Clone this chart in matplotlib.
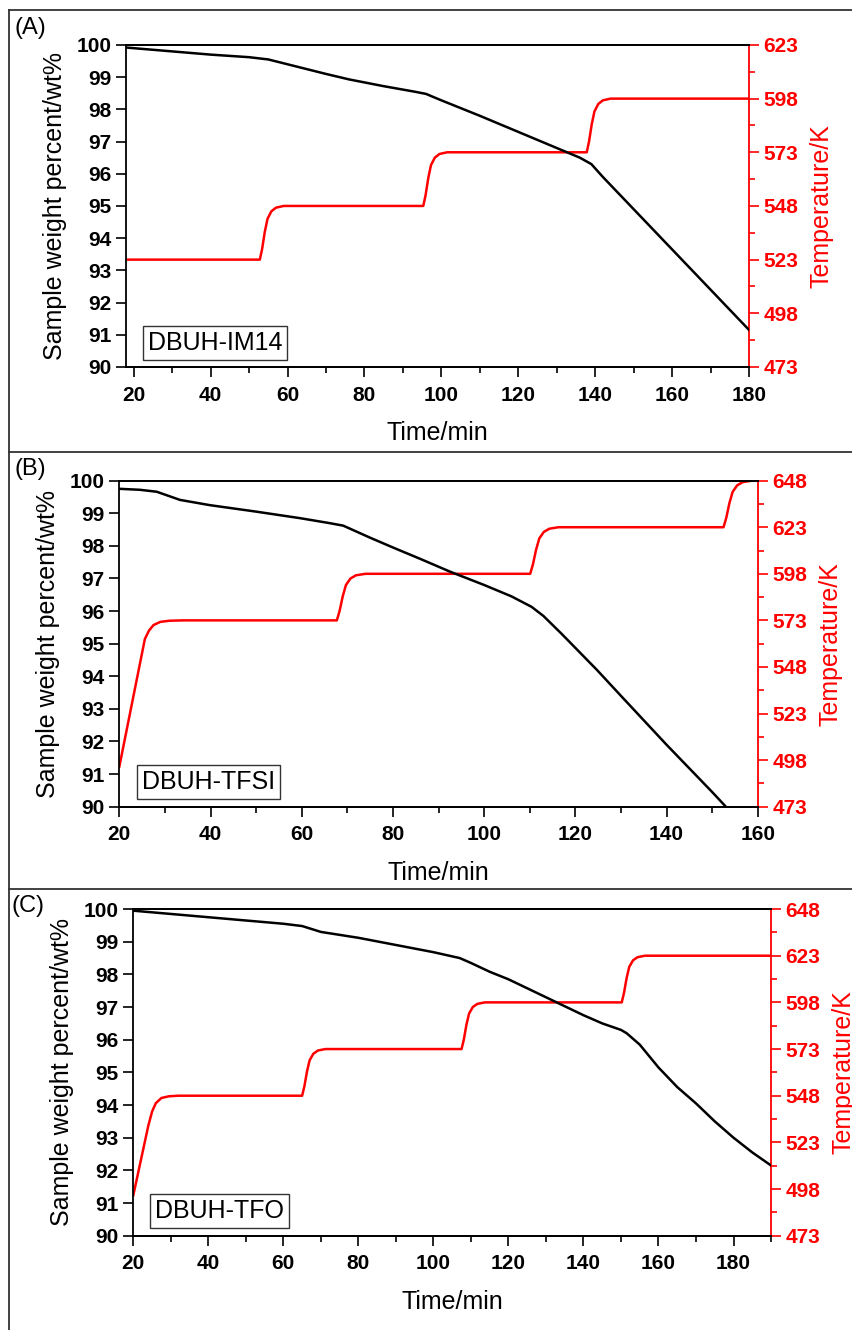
import matplotlib
matplotlib.use("Agg")
import matplotlib.pyplot as plt
from matplotlib.ticker import MultipleLocator, FixedLocator
from matplotlib.lines import Line2D

plt.rcParams['font.family'] = ['Liberation Sans', 'DejaVu Sans']

# ---- panel A: DBUH-IM14 ----
a_time_w = [18, 20, 30, 40, 50, 55, 60, 65, 70, 76, 85, 93, 96, 100, 110, 120, 130, 136, 139, 142, 150, 160, 170, 180]
a_weight = [99.92, 99.9, 99.8, 99.7, 99.62, 99.55, 99.4, 99.25, 99.1, 98.93, 98.72, 98.55, 98.48, 98.28, 97.8, 97.3,
            96.8, 96.5, 96.3, 95.9, 94.9, 93.65, 92.4, 91.15]
a_time_t = [18, 52.8, 53.4, 54.1, 54.8, 55.8, 57.0, 59.0, 95.3, 95.9, 96.6, 97.3, 98.3, 99.5, 101.5,
            137.8, 138.4, 139.1, 139.8, 140.8, 142.0, 144.0, 180]
a_temp = [523, 523, 528, 536, 542, 545.5, 547.2, 548, 548, 553, 561, 567, 570.5, 572.2, 573,
          573, 578, 586, 592, 595.5, 597.2, 598, 598]

# ---- panel B: DBUH-TFSI ----
b_time_w = [20, 24.5, 28.2, 33.3, 39.8, 50, 59.6, 66, 69.1, 75, 80, 86, 92.5, 100, 106, 110.4, 113, 117, 124.7,
            130, 140, 150, 153]
b_weight = [99.75, 99.72, 99.66, 99.41, 99.25, 99.05, 98.85, 98.7, 98.62, 98.25, 97.95, 97.6, 97.21, 96.8, 96.45,
            96.13, 95.85, 95.3, 94.2, 93.4, 91.9, 90.45, 90.0]
b_time_t = [20, 25.6, 26.5, 27.5, 29.0, 31.0, 34.0, 67.7, 68.3, 69.0, 69.7, 70.7, 71.9, 74.0,
            110.1, 110.7, 111.4, 112.1, 113.1, 114.3, 116.3, 152.5, 153.1, 153.8, 154.5, 155.5, 156.7, 158.7, 160]
b_temp = [494.5, 563, 567.5, 570.5, 572.2, 572.8, 573, 573, 578, 586, 592, 595.5, 597.2, 598,
          598, 603, 611, 617, 620.5, 622.2, 623, 623, 628, 636, 642, 645.5, 647.2, 648, 648]

# ---- panel C: DBUH-TFO ----
c_time_w = [20, 30, 40, 50, 60, 65, 70, 80, 90, 100, 107, 110, 115, 120, 130, 140, 145, 150, 151.5, 155, 160,
            165, 170, 175, 180, 185, 190]
c_weight = [99.95, 99.85, 99.75, 99.65, 99.55, 99.48, 99.3, 99.12, 98.9, 98.68, 98.5, 98.35, 98.08, 97.85, 97.3,
            96.75, 96.5, 96.3, 96.2, 95.85, 95.15, 94.55, 94.05, 93.5, 93.0, 92.55, 92.15]
c_time_t = [20, 24.0, 25.0, 26.0, 27.5, 29.5, 32.0, 65.0, 65.6, 66.3, 67.0, 68.0, 69.2, 71.2,
            107.5, 108.1, 108.8, 109.5, 110.5, 111.7, 113.7, 150.2, 150.8, 151.5, 152.2, 153.2, 154.4, 156.4, 190]
c_temp = [494.7, 532, 539.5, 544, 546.8, 547.7, 548, 548, 553, 561, 567, 570.5, 572.2, 573,
          573, 578, 586, 592, 595.5, 597.2, 598, 598, 603, 611, 617, 620.5, 622.2, 623, 623]

temp_ticks_a = [473, 498, 523, 548, 573, 598, 623]
temp_ticks_bc = [473, 498, 523, 548, 573, 598, 623, 648]

panels = [
    dict(tag='(A)', name='DBUH-IM14', tw=a_time_w, w=a_weight, tt=a_time_t, t=a_temp,
         xlim=(18, 180), tticks=temp_ticks_a, rect=[0.1477, 0.7241, 0.7304, 0.2421],
         box=(0.143, 0.075), tagpos=(15, 28)),
    dict(tag='(B)', name='DBUH-TFSI', tw=b_time_w, w=b_weight, tt=b_time_t, t=b_temp,
         xlim=(20, 160), tticks=temp_ticks_bc, rect=[0.1399, 0.3935, 0.7484, 0.2451],
         box=(0.14, 0.075), tagpos=(14, 469)),
    dict(tag='(C)', name='DBUH-TFO', tw=c_time_w, w=c_weight, tt=c_time_t, t=c_temp,
         xlim=(20, 190), tticks=temp_ticks_bc, rect=[0.1563, 0.0709, 0.7476, 0.2456],
         box=(0.135, 0.075), tagpos=(12, 906)),
]

W, H = 853, 1330
fig = plt.figure(figsize=(W / 100, H / 100), dpi=100)

# panel frames
for y in [10, 452, 889]:
    fig.add_artist(Line2D([9 / W, 1], [1 - y / H, 1 - y / H], color='#333333', lw=1.3))
fig.add_artist(Line2D([9 / W, 9 / W], [0, 1 - 10 / H], color='#333333', lw=1.3))

for p in panels:
    ax = fig.add_axes(p['rect'])
    ax2 = ax.twinx()
    ax.set_zorder(2)
    ax.patch.set_visible(False)
    ax.plot(p['tw'], p['w'], color='black', lw=1.8)
    ax2.plot(p['tt'], p['t'], color='red', lw=1.8)

    tt = p['tticks']
    ax.set_xlim(*p['xlim'])
    ax.set_ylim(90, 100)
    ax2.set_ylim(tt[0], tt[-1])
    ax.xaxis.set_major_locator(MultipleLocator(20))
    ax.xaxis.set_minor_locator(MultipleLocator(10))
    ax.yaxis.set_major_locator(MultipleLocator(1))
    ax2.yaxis.set_major_locator(FixedLocator(tt))
    ax2.yaxis.set_minor_locator(FixedLocator([(u + v) / 2 for u, v in zip(tt[:-1], tt[1:])]))

    for s in ax.spines.values():
        s.set_linewidth(1.3)
    ax.spines['right'].set_visible(False)
    for s in ax2.spines.values():
        s.set_linewidth(1.3)
    ax2.spines['right'].set_color('red')
    ax2.spines['left'].set_visible(False)

    ax.tick_params(axis='both', which='major', direction='out', length=7.5, width=1.2, labelsize=15, pad=3)
    ax.tick_params(axis='x', which='minor', direction='out', length=4, width=1.2)
    ax.tick_params(axis='x', pad=6)
    ax.tick_params(top=False, right=False)
    ax2.tick_params(axis='y', which='major', direction='out', length=7.5, width=1.2, colors='red',
                    labelsize=15, pad=3)
    ax2.tick_params(axis='y', which='minor', direction='out', length=4, width=1.2, colors='red')
    for lab in ax.get_xticklabels() + ax.get_yticklabels() + ax2.get_yticklabels():
        lab.set_fontweight('bold')

    ax.set_xlabel('Time/min', fontsize=18, labelpad=12)
    ax.set_ylabel('Sample weight percent/wt%', fontsize=18, labelpad=7)
    ax2.set_ylabel('Temperature/K', fontsize=18, color='red', labelpad=8)

    ax.text(p['box'][0], p['box'][1], p['name'], transform=ax.transAxes, fontsize=18,
            ha='center', va='center', zorder=5,
            bbox=dict(boxstyle='square,pad=0.2', fc='white', ec='#333333', lw=1.0))
    fig.text(p['tagpos'][0] / W, 1 - p['tagpos'][1] / H, p['tag'], fontsize=17, ha='left', va='center')

fig.savefig('out.png', dpi=100)
